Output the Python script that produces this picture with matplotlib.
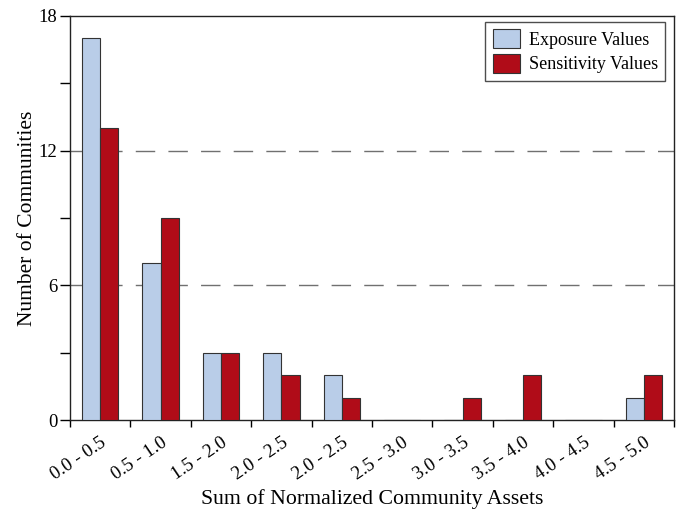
import matplotlib
matplotlib.use("Agg")
import matplotlib.pyplot as plt
import matplotlib.transforms as mtransforms
import numpy as np

categories = ["0.0 - 0.5", "0.5 - 1.0", "1.5 - 2.0", "2.0 - 2.5", "2.0 - 2.5",
              "2.5 - 3.0", "3.0 - 3.5", "3.5 - 4.0", "4.0 - 4.5", "4.5 - 5.0"]
exposure = [17, 7, 3, 3, 2, 0, 0, 0, 0, 1]
sensitivity = [13, 9, 3, 2, 1, 0, 1, 2, 0, 2]

plt.rcParams['font.family'] = ['Liberation Serif', 'DejaVu Serif']

fig = plt.figure(figsize=(6.77, 5.11), dpi=100)
ax = fig.add_axes([0.1034, 0.178, 0.8922, 0.7907])

x = np.arange(len(categories))
w = 0.3
ax.bar(x - w/2, exposure, w, color='#b9cde8', edgecolor='#333333', linewidth=0.8,
       label='Exposure Values', zorder=3)
ax.bar(x + w/2, sensitivity, w, color='#b00c18', edgecolor='#333333', linewidth=0.8,
       label='Sensitivity Values', zorder=3)

ax.set_xlim(-0.5, len(categories) - 0.5)
ax.set_ylim(0, 18)
ax.set_yticks([0, 6, 12, 18])
ax.set_yticks([3, 9, 15], minor=True)
ax.set_xticks(np.arange(len(categories) + 1) - 0.5)
ax.set_xticklabels([])
ax.set_xticks(x, minor=True)
labels = ax.set_xticklabels(categories, minor=True, rotation=34, ha='right',
                            rotation_mode='anchor', fontsize=13.5)
offset = mtransforms.ScaledTranslation(6 / 100, 0, fig.dpi_scale_trans)
for lab in labels:
    lab.set_transform(lab.get_transform() + offset)
ax.tick_params(axis='x', which='minor', length=0, pad=10)
ax.tick_params(axis='x', which='major', direction='out', length=5, width=1)
ax.tick_params(axis='y', which='both', direction='out', length=7, width=1,
               labelsize=13.5, pad=2)

for yv in [6, 12]:
    ax.axhline(yv, color='#707070', linestyle=(0, (14, 9.5)), linewidth=1.0, zorder=1)

for s in ax.spines.values():
    s.set_color('#222222')
    s.set_linewidth(1.0)

ax.set_ylabel('Number of Communities', fontsize=15.5, labelpad=1)
ax.set_xlabel('Sum of Normalized Community Assets', fontsize=15.7, labelpad=4)

leg = ax.legend(loc='upper right', fontsize=13, frameon=True, fancybox=False,
                edgecolor='#222222', handlelength=1.5, handleheight=1.2,
                borderpad=0.4, labelspacing=0.3, handletextpad=0.5,
                borderaxespad=0, bbox_to_anchor=(0.985, 0.985))
leg.get_frame().set_linewidth(1.0)

fig.savefig('out.png', dpi=100)
